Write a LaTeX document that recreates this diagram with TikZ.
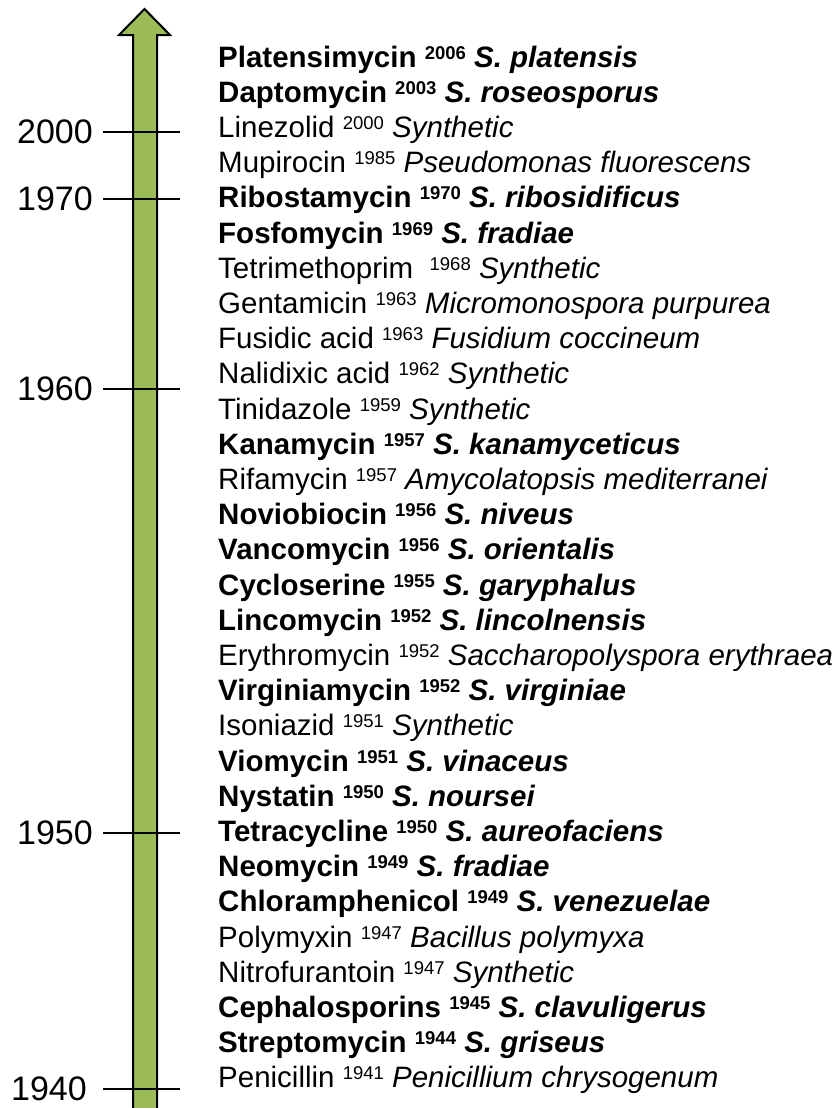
\documentclass[tikz,border=0pt]{standalone}
\usepackage{fontspec}
\setmainfont{Liberation Sans}
\definecolor{arrowgreen}{RGB}{155,187,89}
\newcommand{\yr}[1]{\raisebox{8bp}{\fontsize{18.5bp}{18.5bp}\selectfont #1}}
\tikzset{
  item/.style={anchor=base west, inner sep=0pt, font=\fontsize{29.5bp}{34bp}\selectfont},
  bitem/.style={anchor=base west, inner sep=0pt, font=\fontsize{29.5bp}{34bp}\selectfont\bfseries},
  yearlab/.style={anchor=east, inner sep=0pt, font=\fontsize{34bp}{40bp}\selectfont},
  tickline/.style={line width=2bp, black},
  timearrow/.style={line width=2bp, draw=black, fill=arrowgreen, line join=miter}
}
\begin{document}
\begin{tikzpicture}[x=1bp,y=-1bp]
\useasboundingbox (0,0) rectangle (837,1108);
\begin{scope}
\clip (0,0) rectangle (837,1108);
\draw[timearrow] (133,1120) -- (133,35) -- (119,35) -- (144.5,9) -- (170,35) -- (157,35) -- (157,1120);
\end{scope}
% ticks and year labels
\node[yearlab] (y2000) at (93,132) {2000};
\coordinate (t2000a) at (103,132); \coordinate (t2000b) at (180,132);
\draw[tickline] (t2000a) -- (t2000b);
\node[yearlab] (y1970) at (93,199) {1970};
\coordinate (t1970a) at (103,199); \coordinate (t1970b) at (180,199);
\draw[tickline] (t1970a) -- (t1970b);
\node[yearlab] (y1960) at (93,389) {1960};
\coordinate (t1960a) at (103,389); \coordinate (t1960b) at (180,389);
\draw[tickline] (t1960a) -- (t1960b);
\node[yearlab] (y1950) at (93,833) {1950};
\coordinate (t1950a) at (103,833); \coordinate (t1950b) at (180,833);
\draw[tickline] (t1950a) -- (t1950b);
\node[yearlab] (y1940) at (87,1089) {1940};
\coordinate (t1940a) at (103,1089); \coordinate (t1940b) at (180,1089);
\draw[tickline] (t1940a) -- (t1940b);
% entries
\node[bitem] (e0) at (218,67) {Platensimycin \yr{2006} \textit{S. platensis}};
\node[bitem] (e1) at (218,102.2) {Daptomycin \yr{2003} \textit{S. roseosporus}};
\node[item] (e2) at (218,137.4) {Linezolid \yr{2000} \textit{Synthetic}};
\node[item] (e3) at (218,172.6) {Mupirocin \yr{1985} \textit{Pseudomonas fluorescens}};
\node[bitem] (e4) at (218,207.8) {Ribostamycin \yr{1970} \textit{S. ribosidificus}};
\node[bitem] (e5) at (218,243) {Fosfomycin \yr{1969} \textit{S. fradiae}};
\node[item] (e6) at (218,278.2) {Tetrimethoprim\ \ \yr{1968} \textit{Synthetic}};
\node[item] (e7) at (218,313.4) {Gentamicin \yr{1963} \textit{Micromonospora purpurea}};
\node[item] (e8) at (218,348.6) {Fusidic acid \yr{1963} \textit{Fusidium coccineum}};
\node[item] (e9) at (218,383.8) {Nalidixic acid \yr{1962} \textit{Synthetic}};
\node[item] (e10) at (218,419) {Tinidazole \yr{1959} \textit{Synthetic}};
\node[bitem] (e11) at (218,454.2) {Kanamycin \yr{1957} \textit{S. kanamyceticus}};
\node[item] (e12) at (218,489.4) {Rifamycin \yr{1957} \textit{Amycolatopsis mediterranei}};
\node[bitem] (e13) at (218,524.6) {Noviobiocin \yr{1956} \textit{S. niveus}};
\node[bitem] (e14) at (218,559.8) {Vancomycin \yr{1956} \textit{S. orientalis}};
\node[bitem] (e15) at (218,595) {Cycloserine \yr{1955} \textit{S. garyphalus}};
\node[bitem] (e16) at (218,630.2) {Lincomycin \yr{1952} \textit{S. lincolnensis}};
\node[item] (e17) at (218,665.4) {Erythromycin \yr{1952} \textit{Saccharopolyspora erythraea}};
\node[bitem] (e18) at (218,700.6) {Virginiamycin \yr{1952} \textit{S. virginiae}};
\node[item] (e19) at (218,735.8) {Isoniazid \yr{1951} \textit{Synthetic}};
\node[bitem] (e20) at (218,771) {Viomycin \yr{1951} \textit{S. vinaceus}};
\node[bitem] (e21) at (218,806.2) {Nystatin \yr{1950} \textit{S. noursei}};
\node[bitem] (e22) at (218,841.4) {Tetracycline \yr{1950} \textit{S. aureofaciens}};
\node[bitem] (e23) at (218,876.6) {Neomycin \yr{1949} \textit{S. fradiae}};
\node[bitem] (e24) at (218,911.8) {Chloramphenicol \yr{1949} \textit{S. venezuelae}};
\node[item] (e25) at (218,947) {Polymyxin \yr{1947} \textit{Bacillus polymyxa}};
\node[item] (e26) at (218,982.2) {Nitrofurantoin \yr{1947} \textit{Synthetic}};
\node[bitem] (e27) at (218,1017.4) {Cephalosporins \yr{1945} \textit{S. clavuligerus}};
\node[bitem] (e28) at (218,1052.6) {Streptomycin \yr{1944} \textit{S. griseus}};
\node[item] (e29) at (218,1087.8) {Penicillin \yr{1941} \textit{Penicillium chrysogenum}};
\end{tikzpicture}
\end{document}
